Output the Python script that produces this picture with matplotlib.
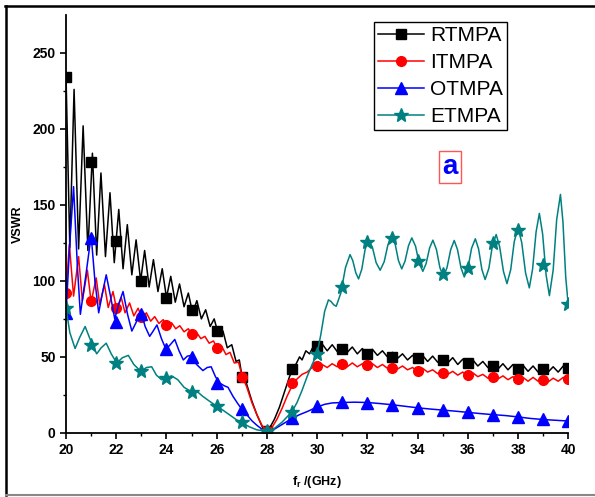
import numpy as np
import matplotlib.pyplot as plt
from matplotlib.lines import Line2D

plt.rcParams['font.family'] = ['Liberation Sans', 'DejaVu Sans']
plt.rcParams['mathtext.fontset'] = 'custom'
plt.rcParams['mathtext.bf'] = 'Liberation Sans:bold'
plt.rcParams['mathtext.rm'] = 'Liberation Sans:bold'

# marker values at every 1 GHz
f_mark = list(range(20, 41))
rt_mark = [234, 178, 126, 100, 89, 81, 67, 37, 1, 42, 57, 55, 52, 50, 49, 48, 46, 44, 42, 42, 43]
it_mark = [92, 87, 82, 76, 71, 65, 56, 37, 1, 33, 44, 45, 44.5, 43, 41, 39.5, 38, 36.5, 35.5, 35, 35.5]
ot_mark = [79, 128, 73, 78, 55, 50, 33, 16, 1, 10, 17.5, 20, 19.5, 18.5, 16.5, 15, 13.5, 12, 10.5, 9, 7.5]
et_mark = [82, 58, 46, 40.5, 36, 27, 17.5, 7, 1, 14, 52, 96, 125.5, 128, 113, 104.5, 108.5, 125, 133.5, 110.5, 84.5]

# curves (frequency, VSWR)
rt_f = [20.0, 20.15, 20.32, 20.5, 20.68, 20.87, 21.05, 21.22, 21.39, 21.57, 21.75, 21.92,
        22.1, 22.27, 22.44, 22.62, 22.79, 22.97, 23.13, 23.31, 23.48, 23.66, 23.83, 24.0,
        24.17, 24.35, 24.52, 24.7, 24.87, 25.04, 25.21, 25.39, 25.56, 25.74, 25.9, 26.08,
        26.25, 26.42, 26.6, 26.77, 26.9, 27.0, 27.1, 27.25, 27.4, 27.6, 27.8, 27.95,
        28.1, 28.3, 28.5, 28.7, 28.9, 29.0, 29.15, 29.3, 29.4, 29.55, 29.7, 29.85, 30.0,
        30.2, 30.4, 30.6, 30.8, 31.0, 31.2, 31.4, 31.6, 31.8, 32.0, 32.2, 32.4, 32.6, 32.8,
        33.0, 33.2, 33.4, 33.6, 33.8, 34.0, 34.2, 34.4, 34.6, 34.8, 35.0, 35.2, 35.4, 35.6,
        35.8, 36.0, 36.2, 36.4, 36.6, 36.8, 37.0, 37.2, 37.4, 37.6, 37.8, 38.0, 38.2, 38.4,
        38.6, 38.8, 39.0, 39.2, 39.4, 39.6, 39.8, 40.0]
rt_v = [234, 122, 226, 121, 202, 120, 184, 117, 171, 116, 158, 112,
        147, 108, 137, 104, 127, 100, 120, 96, 114, 93, 108, 89,
        103, 86, 98, 83, 92, 79, 87, 75, 81, 70, 75, 64,
        67, 56, 58, 47, 48, 38, 37, 29, 21, 12, 4.5, 1.5,
        3, 9, 17, 27, 37, 41, 45, 50, 48, 54, 52, 57, 55,
        58.5, 54, 58, 53.5, 56, 53, 56.5, 52, 55.5, 51.5, 55, 51, 54, 50,
        53, 49, 52, 48, 51, 48, 51, 47, 50.5, 46.5, 50, 46, 49.5, 45,
        48.5, 44.5, 48, 44, 47, 43, 46, 42, 45.5, 41.5, 45, 41, 44.5, 40.5,
        44, 40, 43.5, 40, 43.5, 40, 44, 41]

it_f = [20.0, 20.13, 20.3, 20.5, 20.65, 20.85, 21.0, 21.2, 21.34, 21.53, 21.68, 21.87,
        22.02, 22.2, 22.35, 22.53, 22.7, 22.87, 23.03, 23.2, 23.37, 23.53, 23.7, 23.87,
        24.03, 24.2, 24.37, 24.53, 24.7, 24.87, 25.03, 25.2, 25.37, 25.53, 25.7, 25.87,
        26.03, 26.2, 26.37, 26.53, 26.7, 26.87, 27.0, 27.2, 27.4, 27.6, 27.8, 28.0,
        28.2, 28.4, 28.6, 28.8, 29.0, 29.2, 29.4, 29.6, 29.8, 30.0,
        30.2, 30.4, 30.6, 30.8, 31.0, 31.2, 31.4, 31.6, 31.8, 32.0, 32.2, 32.4, 32.6, 32.8,
        33.0, 33.2, 33.4, 33.6, 33.8, 34.0, 34.2, 34.4, 34.6, 34.8, 35.0, 35.2, 35.4, 35.6,
        35.8, 36.0, 36.2, 36.4, 36.6, 36.8, 37.0, 37.2, 37.4, 37.6, 37.8, 38.0, 38.2, 38.4,
        38.6, 38.8, 39.0, 39.2, 39.4, 39.6, 39.8, 40.0]
it_v = [92, 124, 90, 116, 87, 107, 86, 102, 84.5, 97.5, 82.5, 93,
        81, 89, 79, 85.5, 77, 82, 75.5, 79, 73.5, 76.5, 72, 74.5,
        70, 72.5, 68.5, 70.5, 66.5, 68.5, 64.5, 66, 62, 63.5, 59, 60.5,
        55.5, 57, 51.5, 53, 46, 46.5, 38, 30, 20, 12, 5, 1,
        3.5, 9, 16, 24, 31, 35.5, 38.5, 40, 43, 42.5,
        45, 43, 45.5, 43.5, 46, 43.5, 46, 43.5, 45.5, 43, 45.5, 43, 45, 42.5,
        44.5, 42, 44, 41.5, 43, 40.5, 42.5, 40, 41.5, 39, 41, 38.5, 40.5, 38,
        40, 37.5, 39.5, 37, 38.5, 36, 38, 35.5, 37.5, 35, 37, 34.5, 36.5, 34,
        36.5, 34, 36, 33.5, 36, 34, 36.5, 35]

ot_f = [20.0, 20.15, 20.3, 20.45, 20.57, 20.8, 21.0, 21.15, 21.3, 21.45, 21.6, 21.77,
        21.94, 22.1, 22.27, 22.45, 22.62, 22.8, 22.98, 23.15, 23.33, 23.47, 23.62, 23.8,
        23.98, 24.15, 24.33, 24.5, 24.67, 24.83, 25.0, 25.2, 25.45, 25.62, 25.78, 25.95,
        26.1, 26.3, 26.45, 26.65, 26.85, 27.0, 27.2, 27.4, 27.6, 27.8, 28.0,
        28.3, 28.6, 29.0, 29.3, 29.6, 30.0, 30.3, 30.6, 31.0, 31.5, 32.0, 32.5, 33.0,
        33.5, 34.0, 34.5, 35.0, 35.5, 36.0, 36.5, 37.0, 37.5, 38.0, 38.5, 39.0, 39.5, 40.0]
ot_v = [79, 125, 162, 110, 78, 105, 130, 100, 79, 92, 104, 90,
        75, 85, 93, 78, 67, 73, 80, 70, 63.5, 67, 71, 62,
        55, 58, 61.5, 54, 48, 50.5, 51, 45, 41, 43, 43.5, 37,
        33, 31, 30, 24, 19, 15.6, 12, 8, 5, 2.5, 1,
        2.5, 5.5, 9.5, 12, 14, 17, 18.8, 19.7, 20, 20.2, 20, 19.3, 18.5,
        17.5, 16.5, 15.7, 15, 14.3, 13.5, 12.7, 12, 11.4, 10.5, 9.5, 8.8, 8.3, 7.8]

et_f = [20.0, 20.15, 20.36, 20.55, 20.76, 20.95, 21.22, 21.4, 21.6, 21.8, 22.02, 22.25,
        22.48, 22.7, 22.98, 23.2, 23.41, 23.6, 23.8, 24.0, 24.2, 24.45, 24.7, 25.0,
        25.2, 25.45, 25.7, 26.0, 26.2, 26.5, 26.8, 27.0, 27.3, 27.6, 28.0,
        28.3, 28.6, 28.8, 29.0, 29.2, 29.4, 29.6, 29.8, 30.0, 30.15, 30.3, 30.45,
        30.55, 30.66, 30.76, 30.94, 31.13, 31.31, 31.42, 31.54, 31.65, 31.78, 31.91, 32.04,
        32.2, 32.35, 32.51, 32.67, 32.82, 32.98, 33.11, 33.24, 33.37, 33.5, 33.64, 33.77,
        33.92, 34.06, 34.21, 34.34, 34.48, 34.61, 34.75, 34.89, 35.03, 35.17, 35.32, 35.46,
        35.59, 35.73, 35.86, 36.01, 36.15, 36.3, 36.43, 36.56, 36.69, 36.84, 36.98, 37.13,
        37.27, 37.42, 37.56, 37.71, 37.85, 38.0, 38.15, 38.3, 38.45, 38.58, 38.72, 38.85,
        38.98, 39.12, 39.25, 39.4, 39.54, 39.69, 39.79, 39.9, 40.0]
et_v = [82, 66, 55.5, 63, 70, 62, 52, 56, 59, 52, 46, 49.5,
        51, 45, 40.5, 43, 43.5, 38, 35, 36, 37.5, 35, 30, 27,
        27.5, 24, 21, 17.5, 15.5, 12, 8.5, 6.8, 4, 2, 1,
        3, 7, 10.5, 14, 20, 28, 37, 45, 52, 65, 80, 87.5,
        86.5, 84.3, 83.3, 91.8, 108.8, 117.3, 113.3, 105.3, 101.3, 107.8, 120.7, 127.2,
        122.2, 112, 107, 112.6, 123.8, 129.4, 124, 113.3, 107.9, 113, 123.2, 128.3,
        122.8, 111.8, 106.3, 111.4, 121.7, 126.8, 120.7, 108.7, 102.6, 108.6, 120.6, 126.6,
        120.6, 108.6, 102.6, 108.9, 121.4, 127.7, 121, 107.6, 100.9, 108.3, 123.1, 130.5,
        122.4, 106.3, 98.2, 107.4, 125.8, 135, 125.1, 105.3, 95.4, 107.7, 132.2, 144.4,
        130.9, 103.8, 90.3, 107, 140.3, 156.9, 138.8, 102.5, 84.4]

names = ['RTMPA', 'ITMPA', 'OTMPA', 'ETMPA']
colors = ['black', 'red', 'blue', '#008080']
markers = ['s', 'o', '^', '*']
msizes = [7, 7, 8, 10]

fig = plt.figure(figsize=(5.95, 4.97), dpi=100)
ax = fig.add_axes([0.111, 0.129, 0.844, 0.841])

series = [(rt_f, rt_v, rt_mark), (it_f, it_v, it_mark), (ot_f, ot_v, ot_mark), (et_f, et_v, et_mark)]
handles = []
for (xs, ys, mk), c, m, ms, nm in zip(series, colors, markers, msizes, names):
    ax.plot(xs, ys, color=c, lw=1.1)
    ax.plot(f_mark, mk, ls='none', marker=m, ms=ms, color=c, mec=c)
    handles.append(Line2D([], [], color=c, lw=1.1, marker=m, ms=ms, mec=c))

ax.set_xlim(20, 40)
ax.set_ylim(0, 275)
ax.set_xticks(np.arange(20, 41, 2))
ax.set_xticks(np.arange(21, 40, 2), minor=True)
ax.set_yticks([0, 50, 100, 150, 200, 250])
ax.set_yticks([25, 75, 125, 175, 225], minor=True)
ax.spines['top'].set_visible(False)
ax.spines['right'].set_visible(False)
for s in ['left', 'bottom']:
    ax.spines[s].set_linewidth(1.3)
ax.tick_params(which='major', direction='out', length=4, width=1.2, labelsize=10)
ax.tick_params(which='minor', direction='out', length=2.5, width=1.0)
for lbl in ax.get_xticklabels() + ax.get_yticklabels():
    lbl.set_fontweight('bold')

ax.set_ylabel('VSWR', fontsize=9, fontweight='bold', labelpad=6)
ax.set_xlabel(r'f$_\mathbf{r}$ /(GHz)', fontsize=9, fontweight='bold', labelpad=12)

leg = ax.legend(handles, names, loc='upper left', bbox_to_anchor=(0.6135, 0.983),
                borderaxespad=0, fontsize=15, labelspacing=0.38, handlelength=2.2,
                handletextpad=0.3, borderpad=0.2, fancybox=False, edgecolor='black',
                framealpha=1)
leg.get_frame().set_linewidth(1.0)

ax.text(35.3, 175, 'a', color='blue', fontsize=20, fontweight='bold', ha='center', va='center',
        bbox=dict(boxstyle='square,pad=0.12', fc='white', ec='#ff5555', lw=1))

# outer frame of the original figure
fig.add_artist(Line2D([0.008, 1.0], [0.987, 0.987], transform=fig.transFigure, color='black', lw=1.8))
fig.add_artist(Line2D([0.010, 0.010], [0.004, 0.987], transform=fig.transFigure, color='black', lw=1.8))
fig.add_artist(Line2D([0.010, 1.0], [0.004, 0.004], transform=fig.transFigure, color='#888888', lw=1.5))

fig.savefig('out.png', dpi=100)
